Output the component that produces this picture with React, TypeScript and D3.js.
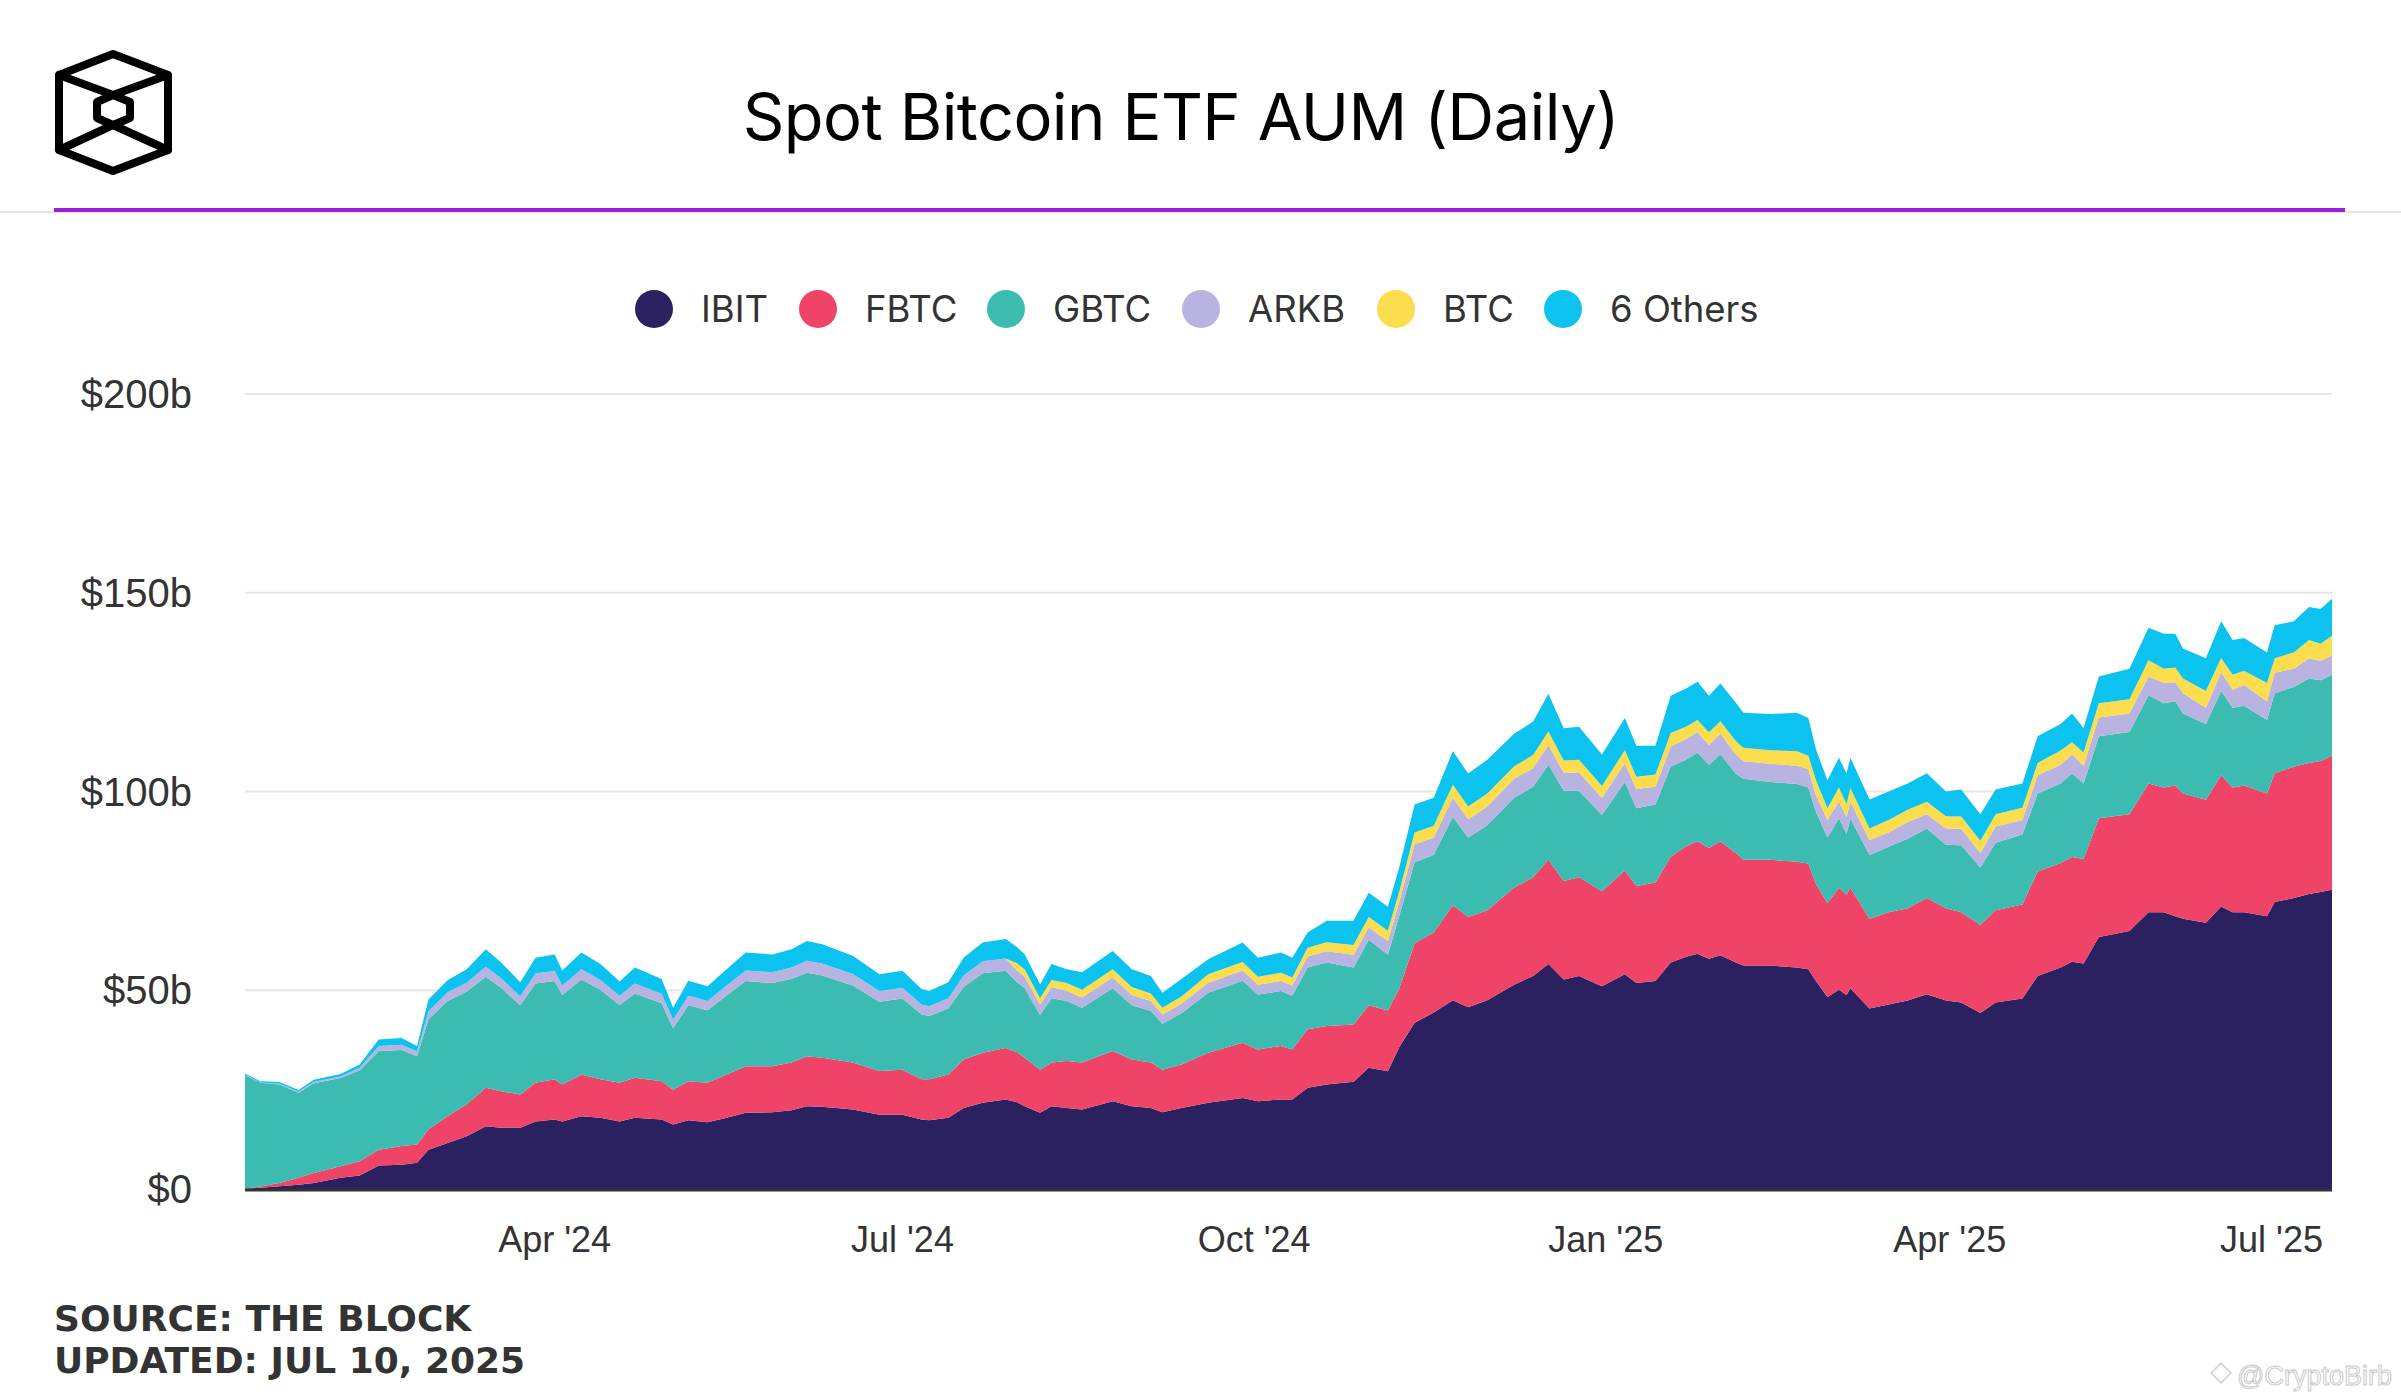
import React from 'react';
import * as d3 from 'd3';

const dates = [
  '2024-01-11','2024-01-15','2024-01-20','2024-01-25','2024-01-29','2024-02-05','2024-02-10','2024-02-15','2024-02-21','2024-02-25',
  '2024-02-28','2024-03-04','2024-03-09','2024-03-14','2024-03-18','2024-03-23','2024-03-27','2024-04-01','2024-04-03','2024-04-08',
  '2024-04-13','2024-04-18','2024-04-22','2024-04-29','2024-05-02','2024-05-06','2024-05-11','2024-05-16','2024-05-21','2024-05-28',
  '2024-06-02','2024-06-06','2024-06-10','2024-06-18','2024-06-25','2024-07-01','2024-07-06','2024-07-08','2024-07-13','2024-07-17',
  '2024-07-22','2024-07-28','2024-07-31','2024-08-02','2024-08-06','2024-08-09','2024-08-13','2024-08-17','2024-08-25','2024-08-30',
  '2024-09-04','2024-09-07','2024-09-12','2024-09-19','2024-09-28','2024-10-02','2024-10-08','2024-10-11','2024-10-15','2024-10-20',
  '2024-10-27','2024-10-31','2024-11-05','2024-11-08','2024-11-12','2024-11-17','2024-11-22','2024-11-26','2024-12-01','2024-12-08',
  '2024-12-13','2024-12-17','2024-12-21','2024-12-25','2024-12-31','2025-01-06','2025-01-09','2025-01-14','2025-01-18','2025-01-22',
  '2025-01-25','2025-01-28','2025-01-31','2025-02-04','2025-02-06','2025-02-13','2025-02-20','2025-02-23','2025-02-25','2025-02-28',
  '2025-03-03','2025-03-05','2025-03-06','2025-03-11','2025-03-16','2025-03-21','2025-03-26','2025-03-31','2025-04-04','2025-04-09',
  '2025-04-13','2025-04-20','2025-04-24','2025-04-30','2025-05-03','2025-05-06','2025-05-10','2025-05-18','2025-05-23','2025-05-27',
  '2025-05-30','2025-06-01','2025-06-07','2025-06-11','2025-06-14','2025-06-17','2025-06-23','2025-06-25','2025-06-30','2025-07-04',
  '2025-07-07','2025-07-10',
];

const ibit = [
  0.05,0.3,0.7,1.1,1.5,2.8,3.4,5.9,6.1,6.6,
  9.9,11.6,13.3,15.8,15.4,15.4,17.0,17.5,17.0,18.3,
  17.9,17.0,17.9,17.5,16.2,17.3,16.8,17.9,19.2,19.3,
  19.8,20.8,20.7,20.0,18.7,18.7,17.5,17.3,17.9,20.4,
  21.7,22.5,21.8,20.8,19.2,20.8,20.4,20.0,22.1,20.8,
  20.4,19.3,20.4,21.7,22.9,22.1,22.5,22.5,25.5,26.3,
  27.0,30.5,29.6,35.7,41.8,44.4,47.5,45.7,47.5,51.4,
  53.6,56.6,52.7,53.6,51.0,54.0,51.8,52.3,57.0,58.4,
  59.2,57.9,58.8,57.0,56.2,56.2,55.7,55.3,52.3,48.3,
  50.1,48.8,50.5,45.4,46.4,47.4,49.0,47.4,46.9,44.3,
  46.9,47.9,53.6,55.7,57.2,56.7,63.4,64.9,69.6,69.6,
  68.6,68.0,67.0,71.1,69.6,69.6,68.6,72.2,73.2,74.2,
  74.7,75.3,
];

const fbtc = [
  0.05,0.3,0.8,1.7,2.5,2.9,3.6,4.0,4.7,4.6,
  5.1,6.7,8.0,9.7,9.2,8.4,9.7,10.1,9.3,10.5,
  9.7,9.7,10.1,9.6,8.8,9.8,9.9,10.9,11.7,11.6,
  12.0,12.6,12.3,11.8,11.0,11.3,10.1,10.3,10.9,12.2,
  12.6,13.0,12.6,12.2,10.8,11.0,11.8,11.8,12.6,11.8,
  11.4,10.7,10.9,12.6,13.9,13.0,13.5,12.6,14.7,14.7,
  14.4,15.7,15.3,14.8,20.0,20.1,23.9,22.7,22.6,24.4,
  24.8,26.2,24.8,24.8,23.9,26.1,24.4,24.8,26.6,27.8,
  28.3,27.9,28.7,27.5,26.6,26.6,26.6,26.6,24.4,23.6,
  25.7,25.2,25.3,22.6,23.2,23.2,24.2,23.2,22.7,22.2,
  23.2,23.7,26.3,26.3,26.3,26.3,29.9,29.4,32.4,31.4,
  32.9,31.5,30.9,33.0,31.4,31.9,30.9,32.4,33.0,33.0,
  33.0,33.7,
];

const gbtc = [
  28.6,26.1,24.8,21.4,22.6,22.2,22.9,24.8,24.2,22.2,
  27.7,29.0,28.4,27.9,26.0,22.4,25.0,24.7,22.5,23.9,
  22.5,19.6,21.2,19.6,15.5,19.1,18.3,19.9,21.4,20.9,
  21.1,21.0,20.7,19.4,17.4,17.9,16.3,15.9,16.6,18.2,
  20.0,19.4,17.6,17.5,13.8,16.2,15.1,13.8,15.8,13.6,
  13.0,11.6,12.9,15.1,15.6,13.8,13.8,13.6,15.5,16.0,
  14.3,16.5,14.0,18.3,20.4,19.6,22.2,20.0,21.4,22.6,
  22.8,23.9,22.7,21.8,19.2,22.3,19.6,19.6,22.7,21.8,
  22.3,20.9,21.9,20.0,20.4,19.6,19.6,19.1,18.2,16.5,
  17.4,15.3,17.4,16.0,16.5,17.5,17.5,16.0,16.9,14.4,
  17.0,17.6,19.6,20.0,21.1,19.0,20.6,20.7,22.2,21.2,
  21.2,20.1,19.1,21.2,20.1,20.1,18.5,20.1,20.1,21.2,
  20.3,20.4,
];

const arkb = [
  0.05,0.1,0.2,0.25,0.35,0.4,0.6,1.3,1.3,1.2,
  2.0,2.2,2.2,2.5,2.4,2.3,2.5,2.6,2.4,2.6,
  2.5,2.3,2.5,2.4,2.1,2.4,2.3,2.5,2.7,2.7,
  2.8,3.0,3.0,2.9,2.7,2.7,2.5,2.5,2.6,2.9,
  3.0,3.1,3.0,2.9,2.6,2.8,2.6,2.6,2.7,2.6,
  2.5,2.3,2.4,2.5,2.6,2.5,2.5,2.5,2.8,2.8,
  3.2,3.1,3.5,3.5,4.5,4.3,4.8,4.6,4.7,4.8,
  4.7,5.0,4.5,4.6,4.3,4.7,4.8,4.5,5.0,5.2,
  5.2,5.0,5.2,4.9,4.4,4.6,4.6,4.6,4.2,4.4,
  4.3,4.3,4.3,3.8,3.6,4.2,3.6,4.1,4.1,3.6,
  4.1,3.6,4.6,4.7,4.7,4.5,4.7,4.6,4.7,5.1,
  4.8,5.1,4.1,4.7,4.5,5.2,4.7,5.2,4.6,5.1,
  4.8,4.9,
];

const btc = [
  0,0,0,0,0,0,0,0,0,0,
  0,0,0,0,0,0,0,0,0,0,
  0,0,0,0,0,0,0,0,0,0,
  0,0,0,0,0,0,0,0,0,0,
  0,0,1.8,1.8,1.6,1.8,1.9,1.9,2.1,2.0,
  1.9,1.7,1.8,2.1,2.1,2.0,2.1,2.0,2.2,2.3,
  2.5,2.6,2.6,2.6,3.0,3.0,3.3,3.2,3.3,3.1,
  3.3,3.4,3.1,3.2,3.0,3.3,3.1,3.1,3.4,3.1,
  3.0,3.2,3.1,3.3,3.4,3.4,3.6,3.4,3.7,3.0,
  3.5,3.2,3.4,2.9,3.1,3.1,3.1,3.1,3.1,3.1,
  3.1,3.1,3.1,3.6,3.1,3.3,3.6,3.6,4.1,3.6,
  3.7,3.7,4.2,3.6,3.8,3.6,4.6,3.6,4.1,4.6,
  4.4,4.9,
];

const others = [
  0.3,0.3,0.4,0.45,0.55,0.6,0.8,1.6,1.7,1.4,
  3.0,3.0,3.4,4.4,4.0,3.5,4.0,4.1,3.8,4.2,
  4.0,3.6,4.0,3.7,3.0,3.8,3.7,4.1,4.5,4.5,
  4.6,5.0,4.9,4.6,4.2,4.3,3.9,3.8,4.0,4.5,
  4.7,4.9,4.0,3.8,3.5,4.0,3.5,4.4,4.6,4.5,
  4.4,3.8,4.4,3.8,4.9,4.8,5.1,5.0,3.8,5.4,
  6.1,6.1,6.0,6.1,7.0,7.0,8.5,8.3,8.5,8.2,
  8.4,9.5,8.1,8.3,7.9,8.1,7.8,7.2,9.4,9.6,
  9.6,9.2,9.5,9.7,8.8,9.1,9.7,9.5,7.8,7.0,
  7.5,7.7,7.6,7.3,7.2,6.6,7.2,6.2,6.8,6.7,
  6.2,6.1,6.7,6.7,7.2,6.2,6.7,7.7,8.2,8.8,
  8.5,7.6,8.2,9.2,8.7,8.2,7.7,8.3,7.8,8.3,
  8.7,9.3,
];

const seriesNames = ['IBIT', 'FBTC', 'GBTC', 'ARKB', 'BTC', '6 Others'];
const seriesValues = [ibit, fbtc, gbtc, arkb, btc, others];
const seriesColors = ['#2b2160', '#ef4368', '#3cbcb1', '#b9b3e1', '#fcdd4d', '#0cc2ee'];

const yTicks = [0, 50, 100, 150, 200];
const yTickLabels = ['$0', '$50b', '$100b', '$150b', '$200b'];
const xTickDates = ['2024-04-01', '2024-07-01', '2024-10-01', '2025-01-01', '2025-04-01', '2025-07-01'];
const xTickLabels = ["Apr '24", "Jul '24", "Oct '24", "Jan '25", "Apr '25", "Jul '25"];

const W = 2401;
const H = 1400;
const PL = 245;
const PR = 2332;
const PT = 394;
const PB = 1189;

const parse = d3.utcParse('%Y-%m-%d');

type Row = { date: Date; [k: string]: any };

export default function App() {
  const rows: Row[] = dates.map((d, i) => {
    const r: Row = { date: parse(d) as Date };
    seriesNames.forEach((k, j) => { r[k] = seriesValues[j][i]; });
    return r;
  });

  const x = d3.scaleUtc()
    .domain([parse('2024-01-11') as Date, parse('2025-07-10') as Date])
    .range([PL, PR]);
  const y = d3.scaleLinear().domain([0, 200]).range([PB, PT]);

  const stacked = d3.stack<Row>().keys(seriesNames)(rows);
  const area = d3.area<any>()
    .x((d) => x(d.data.date))
    .y0((d) => y(d[0]))
    .y1((d) => y(d[1]))
    .curve(d3.curveLinear);

  const legendCx = [654, 818, 1006, 1201, 1396, 1563];

  const sans = 'Inter, "Noto Sans", sans-serif';
  const axisFont = '"Liberation Sans", Arial, sans-serif';

  return (
    <svg
      width={W}
      height={H}
      viewBox={`0 0 ${W} ${H}`}
      style={{ position: 'absolute', left: 0, top: 0, background: '#fff' }}
    >
      <rect x={0} y={0} width={W} height={H} fill="#ffffff" />

      {/* Logo */}
      <g fill="none" stroke="#000" strokeWidth={8} strokeLinejoin="round" strokeLinecap="round">
        <polygon points="113,54 168,75 168,150 113,171 59,150 59,75" />
        <polygon points="113,95 130,102 130,118 113,125 97,118 97,102" />
        <polyline points="59,75 113,95 168,75" />
        <polyline points="59,150 113,125 168,150" />
      </g>

      {/* Title */}
      <text x={1181} y={140} textAnchor="middle" fontFamily={sans} fontSize={65} letterSpacing={-0.6} fill="#000">
        Spot Bitcoin ETF AUM (Daily)
      </text>

      {/* Header separators */}
      <line x1={0} x2={W} y1={212} y2={212} stroke="#e4e4e4" strokeWidth={2} />
      <line x1={54} x2={2345} y1={210} y2={210} stroke="#9b1de0" strokeWidth={4} />

      {/* Legend */}
      {seriesNames.map((n, i) => (
        <g key={n}>
          <circle cx={legendCx[i]} cy={309} r={19} fill={seriesColors[i]} />
          <text x={legendCx[i] + 47} y={322} fontFamily={sans} fontSize={36.5} fill="#333">
            {n}
          </text>
        </g>
      ))}

      {/* Grid */}
      {yTicks.map((t) => (
        <line key={t} x1={PL} x2={PR} y1={y(t)} y2={y(t)} stroke="#e6e6e6" strokeWidth={2} />
      ))}

      {/* Areas */}
      {stacked.map((s, i) => (
        <path key={s.key} d={area(s as any) || ''} fill={seriesColors[i]} />
      ))}

      {/* X axis line */}
      <line x1={PL} x2={PR} y1={PB + 1} y2={PB + 1} stroke="#333" strokeWidth={3} />

      {/* Y labels */}
      {yTicks.map((t, i) => (
        <text key={t} x={192} y={y(t) + 14} textAnchor="end" fontFamily={axisFont} fontSize={40} fill="#333">
          {yTickLabels[i]}
        </text>
      ))}

      {/* X labels */}
      {xTickDates.map((d, i) => {
        const px = x(parse(d) as Date);
        const last = px + 55 > PR;
        return (
          <text
            key={d}
            x={last ? PR - 9 : px}
            y={1252}
            textAnchor={last ? 'end' : 'middle'}
            fontFamily={axisFont}
            fontSize={36}
            fill="#333"
          >
            {xTickLabels[i]}
          </text>
        );
      })}

      {/* Footer */}
      <text x={54} y={1331} fontFamily='"DejaVu Sans", sans-serif' fontWeight="bold" fontSize={36} fill="#333">
        SOURCE: THE BLOCK
      </text>
      <text x={54} y={1373} fontFamily='"DejaVu Sans", sans-serif' fontWeight="bold" fontSize={36} fill="#333">
        UPDATED: JUL 10, 2025
      </text>

      {/* Watermark */}
      <g opacity={0.8}>
        <rect x={2214} y={1366} width={14} height={14} transform="rotate(45 2221 1373)" fill="none" stroke="#c4c4c4" strokeWidth={1.5} />
        <text x={2237} y={1385} fontFamily={axisFont} fontSize={27} fill="#fff" stroke="#bdbdbd" strokeWidth={1}>
          @CryptoBirb
        </text>
      </g>
    </svg>
  );
}
